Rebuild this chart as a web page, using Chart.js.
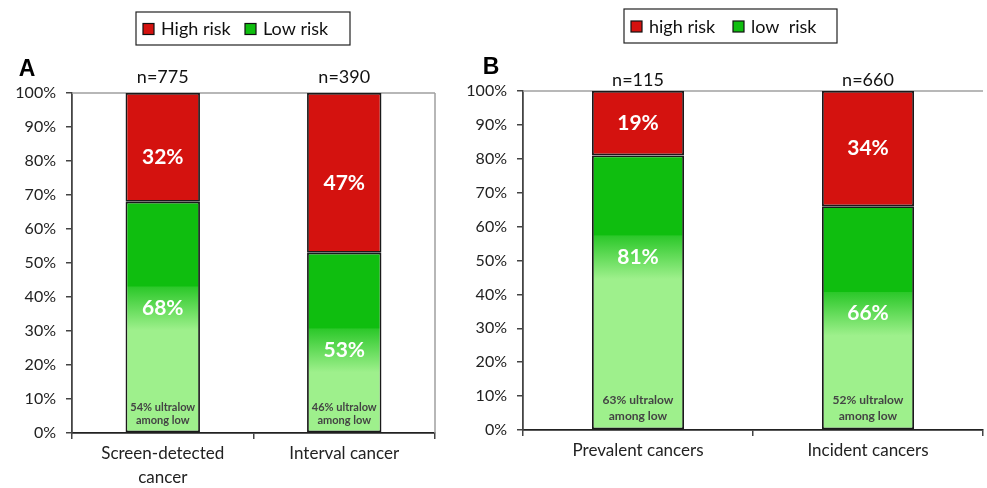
<!DOCTYPE html>
<html>
<head>
<meta charset="utf-8">
<script src="https://cdn.jsdelivr.net/npm/chart.js@4.4.1/dist/chart.umd.min.js"></script>
<style>
  body { margin: 0; background: #fff; }
  #wrap { position: relative; width: 987px; height: 488px; }
  .panel { position: absolute; top: 0; height: 488px; }
  #panelA { left: 0; width: 460px; }
  #panelB { left: 460px; width: 527px; }
</style>
</head>
<body>
<div id="wrap">
  <div class="panel" id="panelA"><canvas id="chartA"></canvas></div>
  <div class="panel" id="panelB"><canvas id="chartB"></canvas></div>
</div>
<script>
// panel A: screen-detected vs interval
const categoriesA = [['Screen-detected', 'cancer'], 'Interval cancer']
const highRiskA = [32, 47]
const lowRiskA = [68, 53]
const ultralowA = [54, 46]   // % ultralow among low
const countsA = [775, 390]
const legendA = ['High risk', 'Low risk']

// panel B: prevalent vs incident
const categoriesB = ['Prevalent cancers', 'Incident cancers']
const highRiskB = [19, 34]
const lowRiskB = [81, 66]
const ultralowB = [63, 52]
const countsB = [115, 660]
const legendB = ['high risk', 'low  risk']

const RED = '#D4120F'
const GREEN = '#0FBE0F'
const LIGHT_GREEN = '#9EF08C'
const FONT = 'Lato, "Open Sans", sans-serif'

function greenFill(ultralow, low) {
  return function (context) {
    const chart = context.chart
    const y = chart.scales.y
    if (!chart.chartArea || !y) return GREEN
    const mid = ultralow[context.dataIndex] / 100 * low[context.dataIndex]
    const g = chart.ctx.createLinearGradient(0, y.getPixelForValue(mid + 6.5), 0, y.getPixelForValue(mid - 6.5))
    g.addColorStop(0, GREEN)
    g.addColorStop(0.02, '#2cc82a')
    g.addColorStop(1, LIGHT_GREEN)
    return g
  }
}

const decorations = {
  id: 'decorations',
  beforeDatasetsDraw(chart, args, opts) {
    const { ctx, chartArea } = chart
    ctx.save()
    ctx.strokeStyle = '#a0a0a0'
    ctx.lineWidth = 1.5
    ctx.beginPath()
    ctx.moveTo(chartArea.left, chartArea.top)
    ctx.lineTo(chartArea.right, chartArea.top)
    if (opts.rightBorder) {
      ctx.moveTo(chartArea.right, chartArea.top)
      ctx.lineTo(chartArea.right, chartArea.bottom)
    }
    ctx.stroke()
    ctx.restore()
  },
  afterDatasetsDraw(chart, args, opts) {
    const { ctx, chartArea } = chart
    const y = chart.scales.y
    const lowMeta = chart.getDatasetMeta(0)
    const highMeta = chart.getDatasetMeta(1)
    const low = chart.data.datasets[0].data
    const high = chart.data.datasets[1].data
    ctx.save()
    ctx.textAlign = 'center'
    ctx.textBaseline = 'middle'
    lowMeta.data.forEach((bar, i) => {
      // big percentages
      ctx.fillStyle = '#fff'
      ctx.font = 'bold 21px ' + FONT
      const mid = opts.ultralow[i] / 100 * low[i]
      ctx.fillText(low[i] + '%', bar.x, y.getPixelForValue(mid))
      ctx.fillText(high[i] + '%', bar.x, y.getPixelForValue(low[i] + high[i] / 2) + opts.redShift)
      // ultralow note
      ctx.fillStyle = '#444'
      ctx.font = 'bold ' + opts.noteSize + 'px ' + FONT
      ctx.fillText(opts.ultralow[i] + '% ultralow', bar.x, chartArea.bottom - opts.noteGap[0])
      ctx.fillText('among low', bar.x, chartArea.bottom - opts.noteGap[1])
      // n labels
      ctx.fillStyle = '#111'
      ctx.font = '18px ' + FONT
      ctx.fillText('n=' + opts.counts[i], highMeta.data[i].x, chartArea.top - opts.nGap)
    })
    // panel letter
    ctx.fillStyle = '#000'
    ctx.font = 'bold 23px "Liberation Sans", Arial, sans-serif'
    ctx.fillText(opts.letter, opts.letterPos[0], opts.letterPos[1])
    // legend box
    const lg = opts.legend
    ctx.strokeStyle = '#222'
    ctx.lineWidth = 1.2
    ctx.fillStyle = '#fff'
    ctx.fillRect(lg.x, lg.y, lg.w, lg.h)
    ctx.strokeRect(lg.x, lg.y, lg.w, lg.h)
    const cy = lg.y + lg.h / 2
    const colors = [RED, GREEN]
    ctx.textAlign = 'left'
    ctx.font = '18px ' + FONT
    opts.labels.forEach((label, k) => {
      const sx = lg.items[k]
      ctx.fillStyle = colors[k]
      ctx.fillRect(sx, cy - 5, 11, 11)
      ctx.strokeStyle = '#111'
      ctx.lineWidth = 1.2
      ctx.strokeRect(sx, cy - 5, 11, 11)
      ctx.fillStyle = '#111'
      ctx.fillText(label, sx + 18, cy + 1)
    })
    ctx.restore()
  }
}

function makeChart(canvasId, cats, low, high, ultralow, counts, labels, layout) {
  return new Chart(document.getElementById(canvasId), {
    type: 'bar',
    data: {
      labels: cats,
      datasets: [
        {
          label: labels[1],
          data: low,
          backgroundColor: greenFill(ultralow, low),
          borderColor: '#1a1a1a',
          borderWidth: 1.8,
          borderSkipped: false
        },
        {
          label: labels[0],
          data: high,
          backgroundColor: RED,
          borderColor: '#1a1a1a',
          borderWidth: 1.8,
          borderSkipped: false
        }
      ]
    },
    options: {
      responsive: true,
      maintainAspectRatio: false,
      animation: false,
      layout: { padding: { top: layout.top, right: layout.right, left: 0, bottom: 0 } },
      datasets: { bar: { categoryPercentage: 1, barPercentage: layout.barPct } },
      plugins: {
        legend: { display: false },
        tooltip: { enabled: false },
        decorations: {
          ultralow, counts, labels,
          letter: layout.letter,
          letterPos: layout.letterPos,
          legend: layout.legend,
          rightBorder: layout.rightBorder,
          noteSize: layout.noteSize,
          noteGap: layout.noteGap,
          nGap: layout.nGap,
          redShift: layout.redShift
        }
      },
      scales: {
        x: {
          stacked: true,
          afterFit: (s) => { s.height = layout.xHeight },
          grid: { display: true, offset: true, drawOnChartArea: false, drawTicks: true, tickLength: 6, color: '#444', lineWidth: 1.5 },
          border: { display: true, color: '#222', width: 1.8 },
          ticks: { color: '#222', font: { family: FONT, size: 17, lineHeight: 1.45 }, padding: 2, maxRotation: 0 }
        },
        y: {
          stacked: true,
          min: 0,
          max: 100,
          afterFit: (s) => { s.width = layout.yWidth },
          grid: { display: true, drawOnChartArea: false, drawTicks: true, tickLength: 6, color: '#444', lineWidth: 1.5 },
          border: { display: true, color: '#444', width: 1.8 },
          ticks: { stepSize: 10, color: '#222', font: { family: FONT, size: 16 }, padding: 10, callback: (v) => v + '%' }
        }
      }
    },
    plugins: [decorations]
  })
}

makeChart('chartA', categoriesA, lowRiskA, highRiskA, ultralowA, countsA, legendA, {
  top: 93, right: 25, xHeight: 55, yWidth: 72, barPct: 0.41,
  letter: 'A', letterPos: [27, 70],
  legend: { x: 136, y: 12, w: 214, h: 33, items: [143, 245] },
  rightBorder: true, noteSize: 11, noteGap: [26, 13], nGap: 16, redShift: 10
})

makeChart('chartB', categoriesB, lowRiskB, highRiskB, ultralowB, countsB, legendB, {
  top: 91, right: 4, xHeight: 58, yWidth: 63, barPct: 0.40,
  letter: 'B', letterPos: [31, 68],
  legend: { x: 164, y: 9, w: 213, h: 34, items: [171, 273] },
  rightBorder: false, noteSize: 12, noteGap: [30, 14], nGap: 11, redShift: 0
})
</script>
</body>
</html>
